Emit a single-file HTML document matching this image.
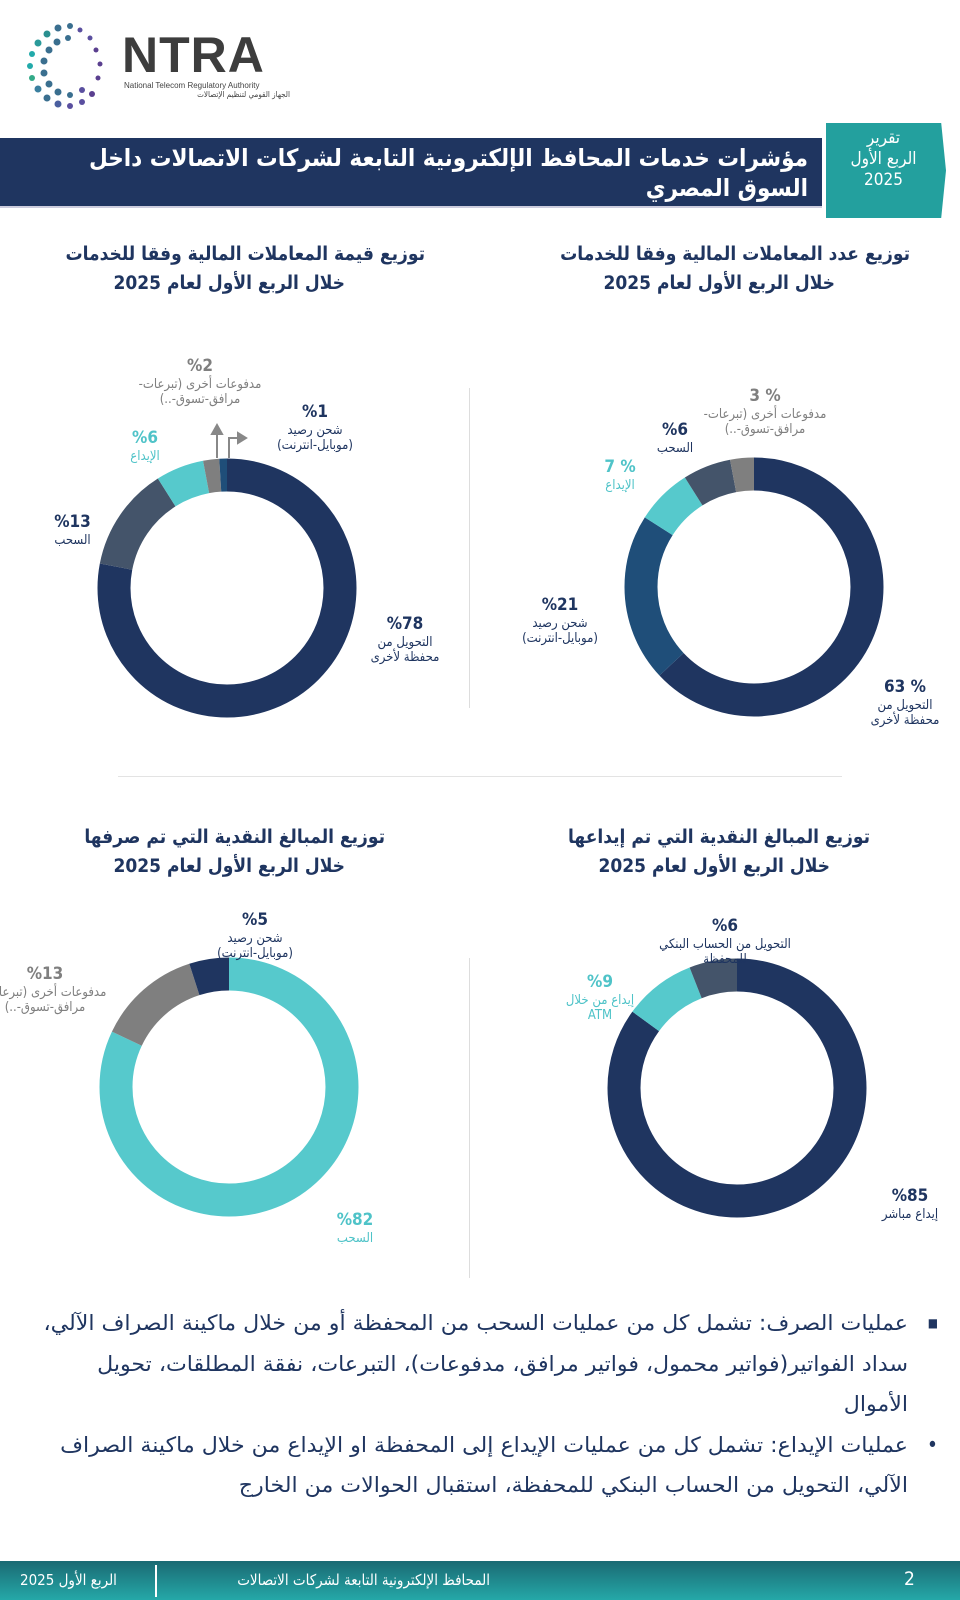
<!DOCTYPE html>
<html><head><meta charset="utf-8"><style>
*{margin:0;padding:0;box-sizing:border-box}
body{width:960px;height:1600px;position:relative;background:#fff;font-family:"DejaVu Sans Condensed","DejaVu Sans",sans-serif;overflow:hidden;color:#1f3560}
.a{position:absolute}
.t{position:absolute;direction:rtl;text-align:right;font-weight:bold;font-size:19px;line-height:29px;color:#1f3560}
.l{position:absolute;direction:rtl;text-align:center;font-size:13px;line-height:15px;color:#1f3560}
.l b{font-size:17px;display:block;line-height:21px}
.g{color:#7f7f7f}.c{color:#4fc3c8}
</style></head><body>
<!-- logo -->
<svg class="a" style="left:20px;top:18px" width="110" height="100">
<g fill="#3a6f8f">
<circle cx="50" cy="8" r="3"/><circle cx="38" cy="10" r="3.5"/><circle cx="27" cy="16" r="3.5" fill="#2a8f8f"/><circle cx="18" cy="25" r="3.5" fill="#2a9a9a"/><circle cx="12" cy="36" r="3" fill="#2aa"/><circle cx="10" cy="48" r="3" fill="#2aa"/><circle cx="12" cy="60" r="3" fill="#3a8"/><circle cx="18" cy="71" r="3.5" fill="#3a7f9f"/><circle cx="27" cy="80" r="3.5"/><circle cx="38" cy="86" r="3.5" fill="#4a5f9f"/><circle cx="50" cy="88" r="3" fill="#5a4f9f"/><circle cx="62" cy="84" r="3" fill="#5a4f9f"/><circle cx="72" cy="76" r="3" fill="#5a3f8f"/>
<circle cx="48" cy="20" r="3"/><circle cx="37" cy="24" r="3.5"/><circle cx="29" cy="32" r="3.5"/><circle cx="24" cy="43" r="3.5"/><circle cx="24" cy="55" r="3.5"/><circle cx="29" cy="66" r="3.5"/><circle cx="38" cy="74" r="3.5"/><circle cx="50" cy="77" r="3"/><circle cx="62" cy="72" r="3" fill="#5a4f9f"/>
<circle cx="60" cy="12" r="2.5" fill="#5a4f9f"/><circle cx="70" cy="20" r="2.5" fill="#5a4f9f"/><circle cx="76" cy="32" r="2.5" fill="#5a3f8f"/><circle cx="80" cy="46" r="2.5" fill="#5a3f8f"/><circle cx="78" cy="60" r="2.5" fill="#5a3f8f"/>
</g></svg>
<div class="a" style="left:122px;top:30px;font-family:'Liberation Sans',sans-serif;font-weight:bold;font-size:50px;line-height:50px;color:#3d3d3d;letter-spacing:1px">NTRA</div>
<div class="a" style="left:124px;top:81px;font-family:'Liberation Sans',sans-serif;font-size:8px;color:#444">National Telecom Regulatory Authority</div>
<div class="a" style="left:124px;top:90px;font-size:8px;color:#444;direction:rtl;width:166px;text-align:right">الجهاز القومي لتنظيم الإتصالات</div>
<!-- header band -->
<div class="a" style="left:0;top:138px;width:822px;height:68px;background:#1f3560"></div>
<div class="a" style="left:0;top:206px;width:822px;height:2px;background:#ccd"></div>
<div class="a" style="left:826px;top:123px;width:120px;height:95px;background:#23a09e;clip-path:polygon(0 0,96% 0,100% 50%,96% 100%,0 100%)"></div>
<div class="a" style="left:826px;top:128px;width:115px;color:#fff;font-size:17px;line-height:21px;text-align:center;direction:rtl">تقرير<br>الربع الأول<br>2025</div>
<div class="a" style="left:40px;top:143px;width:768px;color:#fff;font-size:24px;line-height:30px;text-align:right;direction:rtl;font-weight:bold;letter-spacing:-0.3px">مؤشرات خدمات المحافظ الإلكترونية التابعة لشركات الاتصالات داخل<br>السوق المصري</div>
<!-- titles -->
<div class="t" style="left:480px;top:240px;width:430px">توزيع عدد المعاملات المالية وفقا للخدمات<br><span style="margin-right:75px">خلال الربع الأول لعام 2025</span></div>
<div class="t" style="left:0px;top:240px;width:425px">توزيع قيمة المعاملات المالية وفقا للخدمات<br><span style="margin-right:80px">خلال الربع الأول لعام 2025</span></div>
<div class="t" style="left:440px;top:823px;width:430px">توزيع المبالغ النقدية التي تم إيداعها<br><span style="margin-right:40px">خلال الربع الأول لعام 2025</span></div>
<div class="t" style="left:0px;top:823px;width:385px">توزيع المبالغ النقدية التي تم صرفها<br><span style="margin-right:40px">خلال الربع الأول لعام 2025</span></div>
<!-- dividers -->
<div class="a" style="left:469px;top:388px;width:1px;height:320px;background:#ddd"></div>
<div class="a" style="left:118px;top:776px;width:724px;height:1px;background:#e3e3e3"></div>
<div class="a" style="left:469px;top:958px;width:1px;height:320px;background:#ddd"></div>
<!-- donuts -->
<svg class="a" style="left:0;top:0" width="960" height="1600">
<g fill="none" stroke-width="33">
<g transform="translate(754,587) rotate(-90)">
<circle r="113" stroke="#1f3560" stroke-dasharray="447.3 710"/>
<circle r="113" stroke="#1f4e79" stroke-dasharray="149.1 710" stroke-dashoffset="-447.3"/>
<circle r="113" stroke="#56c9cc" stroke-dasharray="49.7 710" stroke-dashoffset="-596.4"/>
<circle r="113" stroke="#44546a" stroke-dasharray="42.6 710" stroke-dashoffset="-646.1"/>
<circle r="113" stroke="#7f7f7f" stroke-dasharray="21.3 710" stroke-dashoffset="-688.7"/>
</g>
<g transform="translate(227,588) rotate(-90)">
<circle r="113" stroke="#1f3560" stroke-dasharray="553.8 710"/>
<circle r="113" stroke="#44546a" stroke-dasharray="92.3 710" stroke-dashoffset="-553.8"/>
<circle r="113" stroke="#56c9cc" stroke-dasharray="42.6 710" stroke-dashoffset="-646.1"/>
<circle r="113" stroke="#7f7f7f" stroke-dasharray="14.2 710" stroke-dashoffset="-688.7"/>
<circle r="113" stroke="#1f4e79" stroke-dasharray="7.1 710" stroke-dashoffset="-702.9"/>
</g>
<g transform="translate(229,1087) rotate(-90)">
<circle r="113" stroke="#56c9cc" stroke-dasharray="582.2 710"/>
<circle r="113" stroke="#7f7f7f" stroke-dasharray="92.3 710" stroke-dashoffset="-582.2"/>
<circle r="113" stroke="#1f3560" stroke-dasharray="35.5 710" stroke-dashoffset="-674.5"/>
</g>
<g transform="translate(737,1088) rotate(-90)">
<circle r="113" stroke="#1f3560" stroke-dasharray="603.5 710"/>
<circle r="113" stroke="#56c9cc" stroke-dasharray="63.9 710" stroke-dashoffset="-603.5"/>
<circle r="113" stroke="#44546a" stroke-dasharray="42.6 710" stroke-dashoffset="-667.4"/>
</g>
</g>
<g stroke="#888" stroke-width="2" fill="#888">
<line x1="217" y1="458" x2="217" y2="432"/><polygon points="212,434 222,434 217,425"/>
<polyline points="229,458 229,438 240,438" fill="none"/><polygon points="238,433 238,443 246,438"/>
</g>
</svg>
<!-- labels chart1 -->
<div class="l g" style="left:690px;top:386px;width:150px"><b>% 3</b>مدفوعات أخرى (تبرعات-<br>مرافق-تسوق-..)</div>
<div class="l" style="left:640px;top:420px;width:70px"><b>%6</b>السحب</div>
<div class="l c" style="left:580px;top:457px;width:80px"><b>% 7</b>الإيداع</div>
<div class="l" style="left:505px;top:595px;width:110px"><b>%21</b>شحن رصيد<br>(موبايل-انترنت)</div>
<div class="l" style="left:850px;top:677px;width:110px"><b>% 63</b>التحويل من<br>محفظة لأخرى</div>
<!-- labels chart2 -->
<div class="l g" style="left:125px;top:356px;width:150px"><b>%2</b>مدفوعات أخرى (تبرعات-<br>مرافق-تسوق-..)</div>
<div class="l" style="left:255px;top:402px;width:120px"><b>%1</b>شحن رصيد<br>(موبايل-انترنت)</div>
<div class="l c" style="left:105px;top:428px;width:80px"><b>%6</b>الإيداع</div>
<div class="l" style="left:30px;top:512px;width:85px"><b>%13</b>السحب</div>
<div class="l" style="left:355px;top:614px;width:100px"><b>%78</b>التحويل من<br>محفظة لأخرى</div>
<!-- labels chart3 -->
<div class="l" style="left:195px;top:910px;width:120px"><b>%5</b>شحن رصيد<br>(موبايل-انترنت)</div>
<div class="l g" style="left:-30px;top:964px;width:150px"><b>%13</b>مدفوعات أخرى (تبرعات-<br>مرافق-تسوق-..)</div>
<div class="l c" style="left:310px;top:1210px;width:90px"><b>%82</b>السحب</div>
<!-- labels chart4 -->
<div class="l" style="left:640px;top:916px;width:170px"><b>%6</b>التحويل من الحساب البنكي<br>للمحفظة</div>
<div class="l c" style="left:550px;top:972px;width:100px"><b>%9</b>إيداع من خلال<br>ATM</div>
<div class="l" style="left:865px;top:1186px;width:90px"><b>%85</b>إيداع مباشر</div>
<!-- bullets -->
<div class="a" style="left:20px;top:1303px;width:888px;direction:rtl;text-align:right;font-size:21px;line-height:40.5px;color:#1f3560;white-space:nowrap">
<div style="position:relative"><span style="position:absolute;right:-30px;top:0;font-size:12px">■</span><div style="transform:scaleX(1.17);transform-origin:right center">عمليات الصرف: تشمل كل من عمليات السحب من المحفظة أو من خلال ماكينة الصراف الآلي،<br>سداد الفواتير(فواتير محمول، فواتير مرافق، مدفوعات)، التبرعات، نفقة المطلقات، تحويل<br>الأموال</div></div>
<div style="position:relative"><span style="position:absolute;right:-30px;top:0">•</span><div style="transform:scaleX(1.17);transform-origin:right center">عمليات الإيداع: تشمل كل من عمليات الإيداع إلى المحفظة او الإيداع من خلال ماكينة الصراف<br>الآلي، التحويل من الحساب البنكي للمحفظة، استقبال الحوالات من الخارج</div></div>
</div>
<!-- footer -->
<div class="a" style="left:0;top:1561px;width:960px;height:39px;background:linear-gradient(#1a6a73,#25a8a8)"></div>
<div class="a" style="left:20px;top:1571px;color:#fff;font-size:15px;direction:rtl">الربع الأول 2025</div>
<div class="a" style="left:155px;top:1565px;width:2px;height:32px;background:#fff"></div>
<div class="a" style="left:170px;top:1571px;width:320px;color:#fff;font-size:15px;direction:rtl;text-align:right">المحافظ الإلكترونية التابعة لشركات الاتصالات</div>
<div class="a" style="left:904px;top:1568px;color:#fff;font-size:19px">2</div>
</body></html>
